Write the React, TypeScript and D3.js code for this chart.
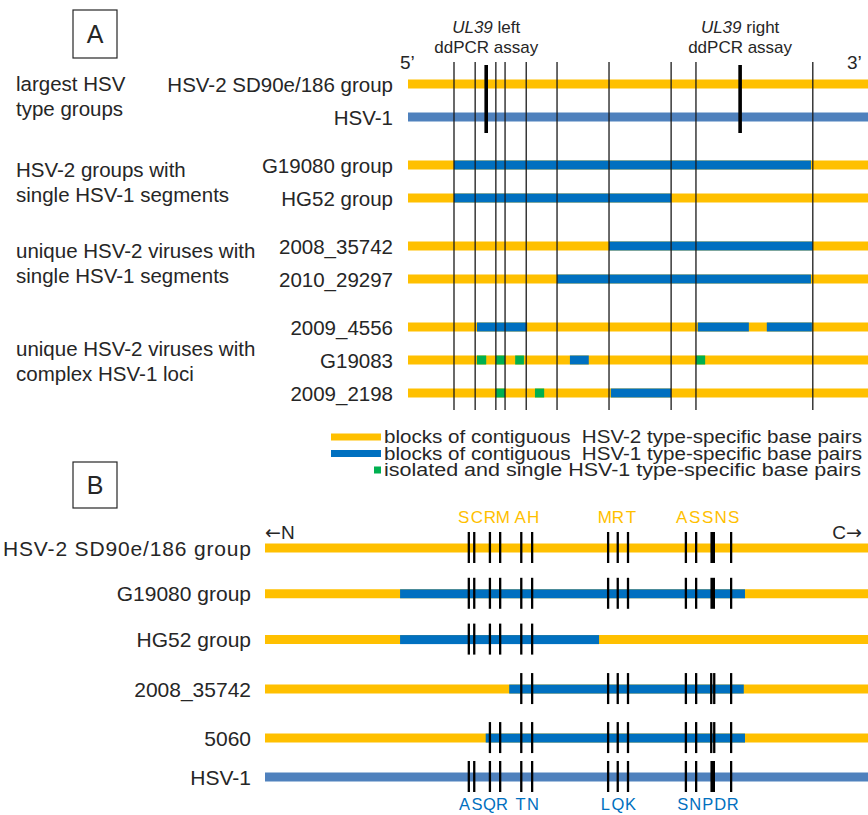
import * as d3 from "d3";

// colours taken from the figure
const HSV2 = "#FFC000";
const HSV1 = "#0070C0";
const HSV1_REF = "#4F81BD";
const SNP = "#00B050";
const INK = "#262626";
const FONT = "'Liberation Sans', Arial, sans-serif";

// ---------- Panel A (UL39 region, position in % of the drawn window) ----------
const ROWS_A = [
  "HSV-2 SD90e/186 group",
  "HSV-1",
  "G19080 group",
  "HG52 group",
  "2008_35742",
  "2010_29297",
  "2009_4556",
  "G19083",
  "2009_2198",
];
const ROW_GROUP_A = [0, 0, 1, 1, 2, 2, 3, 3, 3];
const GROUP_LABELS_A = [
  ["largest HSV", "type groups"],
  ["HSV-2 groups with", "single HSV-1 segments"],
  ["unique HSV-2 viruses with", "single HSV-1 segments"],
  ["unique HSV-2 viruses with", "complex HSV-1 loci"],
];
const BREAKPOINTS_A = [10.0, 14.6, 19.1, 21.1, 25.7, 32.4, 43.7, 57.2, 62.6, 88.0];
const ASSAYS_A = [
  { pos: 17.0, name: "left" },
  { pos: 72.2, name: "right" },
];
// [row, type, start, end]
const SEGMENTS_A: [string, string, number, number][] = [
  ["G19080 group", "hsv1", 10.0, 87.6],
  ["HG52 group", "hsv1", 10.0, 57.2],
  ["2008_35742", "hsv1", 43.7, 88.0],
  ["2010_29297", "hsv1", 32.4, 87.6],
  ["2009_4556", "hsv1", 15.0, 25.9],
  ["2009_4556", "hsv1", 63.0, 74.1],
  ["2009_4556", "hsv1", 78.0, 87.8],
  ["G19083", "snp", 15.0, 17.0],
  ["G19083", "snp", 19.1, 21.1],
  ["G19083", "snp", 23.3, 25.2],
  ["G19083", "hsv1", 35.2, 39.3],
  ["G19083", "snp", 62.6, 64.6],
  ["2009_2198", "snp", 19.1, 21.1],
  ["2009_2198", "snp", 27.6, 29.6],
  ["2009_2198", "hsv1", 44.1, 57.2],
];

const LEGEND = [
  { type: "hsv2", text: "blocks of contiguous  HSV-2 type-specific base pairs" },
  { type: "hsv1", text: "blocks of contiguous  HSV-1 type-specific base pairs" },
  { type: "snp", text: "isolated and single HSV-1 type-specific base pairs" },
];

// ---------- Panel B (protein, N to C, position in % of the drawn window) ----------
const ROWS_B = ["HSV-2 SD90e/186 group", "G19080 group", "HG52 group", "2008_35742", "5060", "HSV-1"];
const SITES_B = [33.8, 34.7, 37.3, 39.0, 42.5, 44.3, 56.9, 58.5, 60.2, 69.8, 71.5, 74.0, 74.5, 77.3];
const HSV2_AA = ["S", "C", "R", "M", "A", "H", "M", "R", "T", "A", "S", "S", "N", "S"];
const HSV1_AA = ["A", "S", "Q", "R", "T", "N", "L", "Q", "K", "S", "N", "P", "D", "R"];
// which sites each row carries, and whether sites 11/12 merge into one thick mark
const ROW_SITES_B = [
  { sites: [0, 1, 2, 3, 4, 5, 6, 7, 8, 9, 10, 11, 12, 13], fused: true },
  { sites: [0, 1, 2, 3, 4, 5, 6, 7, 8, 9, 10, 11, 12, 13], fused: true },
  { sites: [0, 1, 2, 3, 4, 5], fused: false },
  { sites: [4, 5, 6, 7, 8, 9, 10, 11, 12, 13], fused: false },
  { sites: [2, 3, 4, 5, 6, 7, 8, 9, 10, 11, 12, 13], fused: false },
  { sites: [0, 1, 2, 3, 4, 5, 6, 7, 8, 9, 10, 11, 12, 13], fused: true },
];
const SEGMENTS_B: [string, number, number][] = [
  ["G19080 group", 22.4, 79.6],
  ["HG52 group", 22.4, 55.4],
  ["2008_35742", 40.5, 79.4],
  ["5060", 36.6, 79.6],
];

const colorOf = (t: string) => (t === "hsv1" ? HSV1 : t === "snp" ? SNP : HSV2);

// spread label centres so neighbours keep a minimum gap
function spread(xs: number[], gap: number) {
  const out = xs.slice();
  for (let k = 0; k < 40; k++) {
    for (let i = 1; i < out.length; i++) {
      const d = out[i] - out[i - 1];
      if (d < gap) {
        const push = (gap - d) / 2;
        out[i - 1] -= push;
        out[i] += push;
      }
    }
  }
  return out;
}

function PanelA() {
  const x = d3.scaleLinear().domain([0, 100]).range([408, 868]);
  const slot = d3.scaleLinear().domain([0, 1]).range([84, 117]);
  const rowY = (i: number) => slot(i + (ROW_GROUP_A[i] * 15) / 33);
  const groupNudge = [-5, 0, 0, 1];
  const yTop = 62;
  const yBottom = 410;

  return (
    <g fontFamily={FONT} fill={INK}>
      <rect x={73} y={10} width={44} height={48} fill="none" stroke={INK} strokeWidth={1.2} />
      <text x={95} y={34} fontSize={25} textAnchor="middle" dominantBaseline="central">A</text>

      {ASSAYS_A.map((a) => (
        <text key={a.name} x={x(a.pos)} fontSize={17} textAnchor="middle">
          <tspan x={x(a.pos)} y={33}>
            <tspan fontStyle="italic">UL39</tspan> {a.name}
          </tspan>
          <tspan x={x(a.pos)} y={53}>ddPCR assay</tspan>
        </text>
      ))}
      <text x={x(0) - 8} y={69} fontSize={19}>5’</text>
      <text x={x(100) - 21} y={69} fontSize={19}>3’</text>

      {GROUP_LABELS_A.map((lines, gi) => {
        const ys = ROWS_A.map((_, i) => i).filter((i) => ROW_GROUP_A[i] === gi).map(rowY);
        const mid = (d3.mean(ys) as number) + groupNudge[gi];
        return lines.map((l, li) => (
          <text key={gi + "-" + li} x={16} y={mid - 12.5 + li * 25} fontSize={20.5} dominantBaseline="central">
            {l}
          </text>
        ));
      })}

      {ROWS_A.map((r, i) => (
        <g key={r}>
          <text x={393} y={rowY(i)} fontSize={20.5} textAnchor="end" dominantBaseline="central">{r}</text>
          <line
            x1={x(0)}
            x2={x(100)}
            y1={rowY(i)}
            y2={rowY(i)}
            stroke={r === "HSV-1" ? HSV1_REF : HSV2}
            strokeWidth={9}
          />
        </g>
      ))}
      {SEGMENTS_A.map(([r, t, s, e], k) => {
        const y = rowY(ROWS_A.indexOf(r));
        return <rect key={k} x={x(s)} y={y - 4.5} width={x(e) - x(s)} height={9} fill={colorOf(t)} />;
      })}

      {BREAKPOINTS_A.map((b) => (
        <line key={b} x1={x(b)} x2={x(b)} y1={yTop} y2={yBottom} stroke="#1a1a1a" strokeWidth={1.3} />
      ))}
      {ASSAYS_A.map((a) => (
        <line key={a.name} x1={x(a.pos)} x2={x(a.pos)} y1={65} y2={133} stroke="#000" strokeWidth={3.6} />
      ))}

      {LEGEND.map((l, i) => {
        const y = 437 + i * 16.5;
        return (
          <g key={l.type}>
            {l.type === "snp" ? (
              <rect x={374} y={y - 3.5} width={7} height={7} fill={SNP} />
            ) : (
              <line x1={331} x2={381} y1={y} y2={y} stroke={colorOf(l.type)} strokeWidth={7} />
            )}
            <text
              x={384}
              y={y}
              fontSize={17.5}
              dominantBaseline="central"
              textLength={i === 2 ? 477 : 478}
              lengthAdjust="spacingAndGlyphs"
              style={{ whiteSpace: "pre" }}
            >
              {l.text}
            </text>
          </g>
        );
      })}
    </g>
  );
}

function PanelB() {
  const x = d3.scaleLinear().domain([0, 100]).range([265, 868]);
  const slots = [0, 1, 2, 3.08, 4.15, 5];
  const slot = d3.scaleLinear().domain([0, 5]).range([548, 777]);
  const rowY = (i: number) => slot(slots[i]);
  const topX = spread(SITES_B.map((s) => x(s)), 13);
  const botX = spread(SITES_B.map((s) => x(s)), 12.5);

  return (
    <g fontFamily={FONT} fill={INK}>
      <rect x={73} y={462} width={44} height={46} fill="none" stroke={INK} strokeWidth={1.2} />
      <text x={95} y={485} fontSize={25} textAnchor="middle" dominantBaseline="central">B</text>

      <text x={x(0)} y={532} fontSize={19} dominantBaseline="central">
        <tspan fontFamily="'DejaVu Sans'">←</tspan>N
      </text>
      <text x={x(100) - 6} y={532} fontSize={19} textAnchor="end" dominantBaseline="central">
        C<tspan fontFamily="'DejaVu Sans'">→</tspan>
      </text>

      {HSV2_AA.map((a, k) => (
        <text key={"t" + k} x={topX[k]} y={523} fontSize={17} textAnchor="middle" fill={HSV2}>{a}</text>
      ))}
      {HSV1_AA.map((a, k) => (
        <text key={"b" + k} x={botX[k]} y={810} fontSize={16.5} textAnchor="middle" fill={HSV1}>{a}</text>
      ))}

      {ROWS_B.map((r, i) => {
        const y = rowY(i);
        const spec = ROW_SITES_B[i];
        const seg = SEGMENTS_B.filter((s) => s[0] === r);
        return (
          <g key={r}>
            <text
              x={251}
              y={y}
              fontSize={21}
              textAnchor="end"
              dominantBaseline="central"
              textLength={i === 0 ? 248 : undefined}
              lengthAdjust="spacing"
            >
              {r}
            </text>
            <line x1={x(0)} x2={x(100)} y1={y} y2={y} stroke={r === "HSV-1" ? HSV1_REF : HSV2} strokeWidth={9} />
            {seg.map(([, s, e], k) => (
              <rect key={k} x={x(s)} y={y - 4.5} width={x(e) - x(s)} height={9} fill={HSV1} />
            ))}
            {spec.sites
              .filter((s) => !(spec.fused && (s === 11 || s === 12)))
              .map((s) => (
                <line key={s} x1={x(SITES_B[s])} x2={x(SITES_B[s])} y1={y - 16} y2={y + 15} stroke="#000" strokeWidth={2.3} />
              ))}
            {spec.fused && (
              <line
                x1={x((SITES_B[11] + SITES_B[12]) / 2)}
                x2={x((SITES_B[11] + SITES_B[12]) / 2)}
                y1={y - 16}
                y2={y + 15}
                stroke="#000"
                strokeWidth={4.6}
              />
            )}
          </g>
        );
      })}
    </g>
  );
}

export default function App() {
  return (
    <svg
      width={868}
      height={815}
      viewBox="0 0 868 815"
      style={{ position: "absolute", left: 0, top: 0, background: "#fff" }}
    >
      <rect width={868} height={815} fill="#fff" />
      <PanelA />
      <PanelB />
    </svg>
  );
}
